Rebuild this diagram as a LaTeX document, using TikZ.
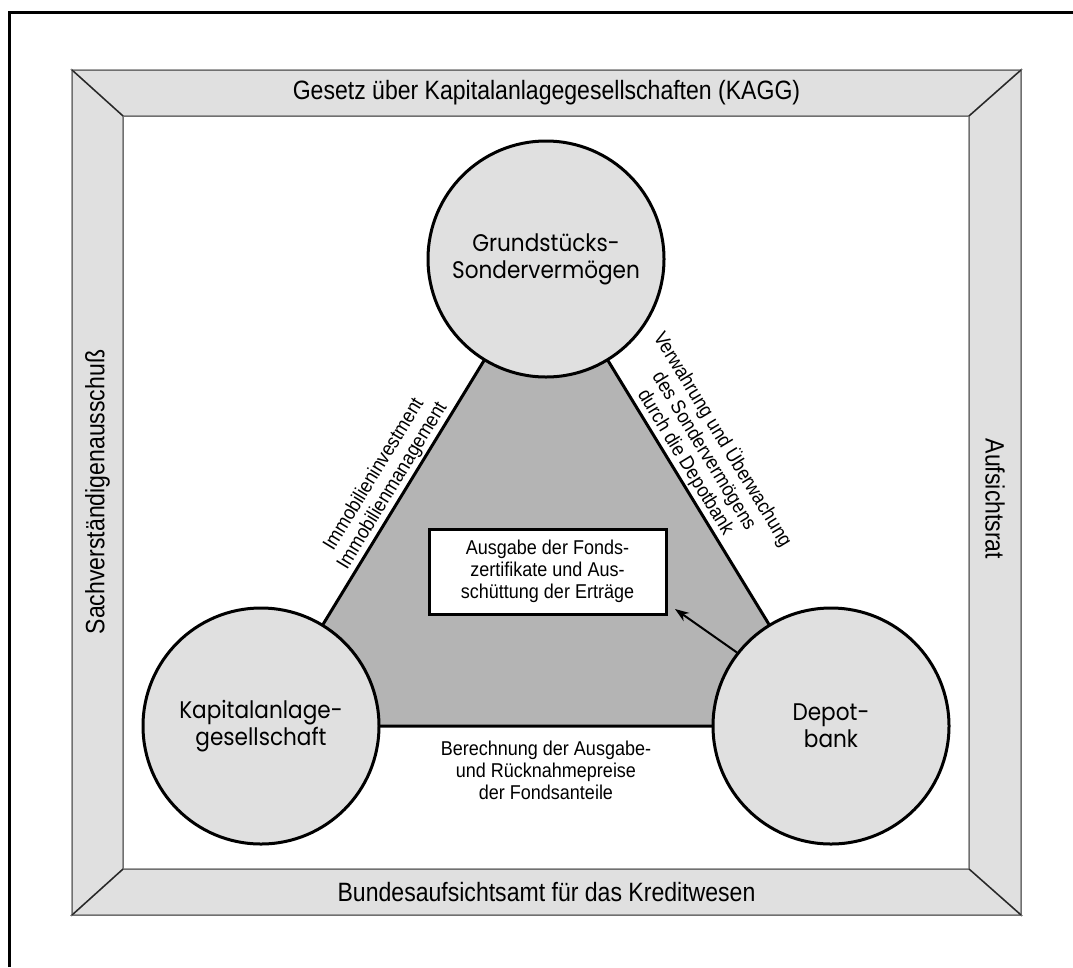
\documentclass[tikz,border=0pt]{standalone}
\usepackage{fontspec}
\setmainfont{Liberation Sans}[FakeStretch=0.9]
\newfontfamily\bandfont{Liberation Sans}[FakeStretch=0.87]
\newfontfamily\roundfont{Poppins}[FakeStretch=0.9]
\usetikzlibrary{arrows.meta}
\definecolor{bandgray}{HTML}{E0E0E0}
\definecolor{edgegray}{HTML}{707070}
\definecolor{trigray}{HTML}{B4B4B4}
\begin{document}
\begin{tikzpicture}[x=1pt,y=-1pt,
  band/.style={fill=bandgray, draw=edgegray, line width=1.5pt, line join=miter},
  mitre/.style={draw=black!85, line width=1.2pt},
  bandlabel/.style={font=\bandfont\fontsize{26.5}{30}\selectfont, inner sep=0pt},
  party/.style={circle, minimum size=236pt, fill=bandgray, draw=black,
    line width=3pt, align=center, inner sep=0pt,
    font=\roundfont\fontsize{24}{27}\selectfont},
  edgelabel/.style={font=\fontsize{20}{21.7}\selectfont, align=center, inner sep=3pt},
  infobox/.style={draw=black, line width=3pt, fill=white, minimum width=237pt,
    minimum height=85pt, align=center, font=\fontsize{20}{21.7}\selectfont},
  flow/.style={line width=2pt, -{Stealth[length=14pt,width=10pt]}}
]
\useasboundingbox (0,0) rectangle (1073,967);

% page border (open to the right and bottom)
\draw[line width=3pt] (9,967) -- (9,12) -- (1073,12);

% bevelled frame
\path[band] (72,70) -- (1021,70) -- (969,116) -- (123,116) -- cycle;
\path[band] (1021,70) -- (1021,915) -- (969,869) -- (969,116) -- cycle;
\path[band] (72,915) -- (1021,915) -- (969,869) -- (123,869) -- cycle;
\path[band] (72,70) -- (123,116) -- (123,869) -- (72,915) -- cycle;
\draw[mitre] (72,70) -- (123,116);
\draw[mitre] (1021,70) -- (969,116);
\draw[mitre] (1021,915) -- (969,869);
\draw[mitre] (72,915) -- (123,869);

\node[bandlabel] (top) at (546.5,93) {Gesetz über Kapitalanlagegesellschaften (KAGG)};
\node[bandlabel] (bottom) at (546.5,892) {Bundesaufsichtsamt für das Kreditwesen};
\node[bandlabel, rotate=90] (left) at (97.5,492) {Sachverständigenausschuß};
\node[bandlabel, rotate=-90] (right) at (995,499) {Aufsichtsrat};

% triangle between the three parties
\coordinate (g) at (546,259);
\coordinate (k) at (261,726);
\coordinate (d) at (831,726);
\draw[fill=trigray, line width=3pt, line join=miter] (g) -- (k) -- (d) -- cycle;

\path (k) -- (g) node[edgelabel, sloped, pos=0.5, above]
  {Immobilieninvestment\\Immobilienmanagement};
\path (g) -- (d) node[edgelabel, sloped, pos=0.45, above]
  {Verwahrung und Überwachung\\des Sondervermögens\\durch die Depotbank};
\path (k) -- (d) node[edgelabel, midway, below=12pt]
  {Berechnung der Ausgabe-\\und Rücknahmepreise\\der Fondsanteile};

% parties
\node[party] (G) at (g) {Grundstücks-\\Sondervermögen};
\node[party] (K) at (k) {Kapitalanlage-\\gesellschaft};
\node[party] (D) at (d) {Depot-\\bank};

% central task and arrow from the depot bank
\node[infobox] (box) at (547.5,571.5)
  {Ausgabe der Fonds-\\zertifikate und Aus-\\schüttung der Erträge};
\coordinate (tip) at (675,609);
\draw[flow] (D.142) -- (tip);
\end{tikzpicture}
\end{document}
